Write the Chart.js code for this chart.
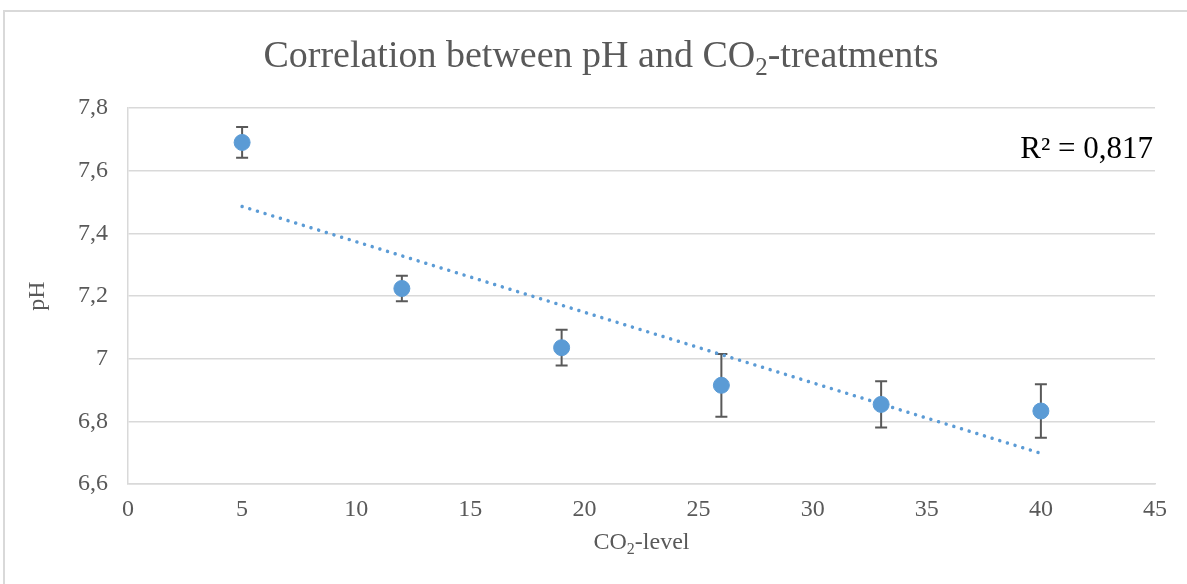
<!DOCTYPE html>
<html>
<head>
<meta charset="utf-8">
<script src="https://cdn.jsdelivr.net/npm/chart.js@4"></script>
<style>
  body { margin: 0; background: #fff; overflow: hidden; }
  #frame { position: absolute; left: 3px; top: 10px; width: 1250px; height: 640px; border: 2px solid #d9d9d9; }
  #wrap { position: absolute; left: 0; top: 0; width: 1187px; height: 584px; }
</style>
</head>
<body>
<div id="frame"></div>
<div id="wrap"><canvas id="phChart"></canvas></div>
<script>
  // CO2 treatments and measured pH (mean and error)
  const co2Levels = [5, 12, 19, 26, 33, 40];
  const phMeans = [7.690, 7.224, 7.035, 6.915, 6.854, 6.833];
  const phErrors = [0.049, 0.041, 0.057, 0.100, 0.074, 0.085];
  const yTicks = [6.6, 6.8, 7, 7.2, 7.4, 7.6, 7.8];
  const xTicks = [0, 5, 10, 15, 20, 25, 30, 35, 40, 45];
  const trendLabel = 'R² = 0,817';

  const blue = '#5b9bd5';
  const grey = '#595959';
  const serif = "'Liberation Serif', 'Times New Roman', serif";

  // least squares trend line through the points
  const n = co2Levels.length;
  const mx = co2Levels.reduce((a, b) => a + b, 0) / n;
  const my = phMeans.reduce((a, b) => a + b, 0) / n;
  let sxy = 0, sxx = 0;
  for (let i = 0; i < n; i++) {
    sxy += (co2Levels[i] - mx) * (phMeans[i] - my);
    sxx += (co2Levels[i] - mx) * (co2Levels[i] - mx);
  }
  const slope = sxy / sxx;
  const icpt = my - slope * mx;
  const xFirst = co2Levels[0], xLast = co2Levels[n - 1];
  const trendData = [
    { x: xFirst, y: icpt + slope * xFirst },
    { x: xLast, y: icpt + slope * xLast }
  ];

  // draws text made of pieces, some of them subscript
  function drawRuns(ctx, parts, size, x, y, align) {
    const subSize = Math.round(size * 0.65);
    let total = 0;
    parts.forEach(p => {
      ctx.font = (p.sub ? subSize : size) + 'px ' + serif;
      p.w = ctx.measureText(p.t).width;
      total += p.w;
    });
    let cx = align === 'center' ? x - total / 2 : x;
    ctx.textAlign = 'left';
    ctx.textBaseline = 'alphabetic';
    parts.forEach(p => {
      ctx.font = (p.sub ? subSize : size) + 'px ' + serif;
      ctx.fillText(p.t, cx, p.sub ? y + size * 0.22 : y);
      cx += p.w;
    });
  }

  const errorBars = {
    id: 'errorBars',
    beforeDatasetsDraw(chart) {
      const ctx = chart.ctx;
      const xs = chart.scales.x, ys = chart.scales.y;
      ctx.save();
      ctx.strokeStyle = grey;
      ctx.lineWidth = 2;
      for (let i = 0; i < co2Levels.length; i++) {
        const px = xs.getPixelForValue(co2Levels[i]);
        const top = ys.getPixelForValue(phMeans[i] + phErrors[i]);
        const bot = ys.getPixelForValue(phMeans[i] - phErrors[i]);
        ctx.beginPath();
        ctx.moveTo(px, top); ctx.lineTo(px, bot);
        ctx.moveTo(px - 6, top); ctx.lineTo(px + 6, top);
        ctx.moveTo(px - 6, bot); ctx.lineTo(px + 6, bot);
        ctx.stroke();
      }
      ctx.restore();
    }
  };

  const labels = {
    id: 'labels',
    afterDraw(chart) {
      const ctx = chart.ctx;
      const area = chart.chartArea;
      ctx.save();
      ctx.fillStyle = grey;
      drawRuns(ctx, [{ t: 'Correlation between pH and CO' }, { t: '2', sub: true }, { t: '-treatments' }], 38, 601, 67, 'center');
      drawRuns(ctx, [{ t: 'CO' }, { t: '2', sub: true }, { t: '-level' }], 24, (area.left + area.right) / 2, 549, 'center');
      ctx.translate(44, (area.top + area.bottom) / 2);
      ctx.rotate(-Math.PI / 2);
      drawRuns(ctx, [{ t: 'pH' }], 24, 0, 0, 'center');
      ctx.restore();
      ctx.save();
      ctx.fillStyle = '#000';
      ctx.font = '31px ' + serif;
      ctx.textAlign = 'right';
      ctx.textBaseline = 'alphabetic';
      ctx.fillText(trendLabel, 1153, 158);
      ctx.restore();
    }
  };

  const ctx = document.getElementById('phChart').getContext('2d');
  const phChart = new Chart(ctx, {
    type: 'scatter',
    data: {
      datasets: [{
        label: 'pH',
        data: co2Levels.map((x, i) => ({ x: x, y: phMeans[i] })),
        backgroundColor: blue,
        borderColor: blue,
        pointRadius: 8,
        pointHoverRadius: 8,
        order: 1
      }, {
        label: 'Trend',
        type: 'line',
        data: trendData,
        borderColor: blue,
        borderWidth: 3.5,
        borderDash: [0.01, 8],
        borderCapStyle: 'round',
        pointRadius: 0,
        fill: false,
        order: 2
      }]
    },
    options: {
      responsive: true,
      maintainAspectRatio: false,
      animation: false,
      layout: { padding: { left: 0, top: 108, right: 32, bottom: 0 } },
      scales: {
        x: {
          type: 'linear',
          min: 0,
          max: 45,
          afterBuildTicks: axis => { axis.ticks = xTicks.map(v => ({ value: v })); },
          afterFit: axis => { axis.height = 100; },
          grid: { display: false, drawTicks: false },
          border: { display: true, color: '#d9d9d9', width: 1.5 },
          ticks: { color: grey, font: { family: serif, size: 24 }, padding: 11 }
        },
        y: {
          min: 6.6,
          max: 7.8,
          afterBuildTicks: axis => { axis.ticks = yTicks.map(v => ({ value: v })); },
          afterFit: axis => { axis.width = 128; },
          grid: { color: '#d9d9d9', lineWidth: 1.5, drawTicks: false },
          border: { display: true, color: '#d9d9d9', width: 1.5 },
          ticks: {
            color: grey,
            font: { family: serif, size: 24 },
            padding: 20,
            callback: v => String(Math.round(v * 10) / 10).replace('.', ',')
          }
        }
      },
      plugins: {
        legend: { display: false },
        title: { display: false },
        tooltip: { enabled: false }
      }
    },
    plugins: [errorBars, labels]
  });
</script>
</body>
</html>
